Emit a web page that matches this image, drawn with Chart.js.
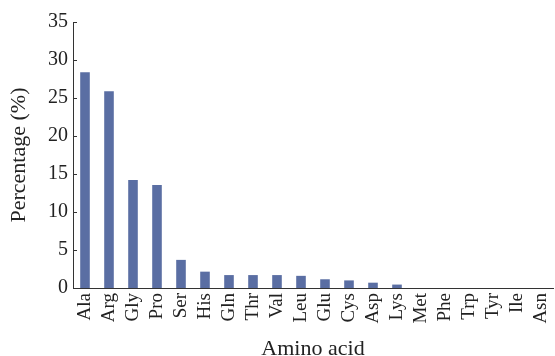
<!DOCTYPE html>
<html>
<head>
<meta charset="utf-8">
<script src="https://cdn.jsdelivr.net/npm/chart.js@4.4.1/dist/chart.umd.min.js"></script>
<style>
  html, body { margin: 0; padding: 0; background: #ffffff; }
  #wrap { width: 555px; height: 356px; }
</style>
</head>
<body>
<div id="wrap"><canvas id="c" width="555" height="356"></canvas></div>
<script>
// Amino acid composition (percentage of total residues)
const aminoAcids = ['Ala', 'Arg', 'Gly', 'Pro', 'Ser', 'His', 'Gln', 'Thr', 'Val', 'Leu',
                    'Glu', 'Cys', 'Asp', 'Lys', 'Met', 'Phe', 'Trp', 'Tyr', 'Ile', 'Asn'];
const percentages = [28.4, 25.9, 14.2, 13.55, 3.7, 2.15, 1.7, 1.7, 1.7, 1.6,
                     1.15, 1.0, 0.7, 0.45, 0, 0, 0, 0, 0, 0];
const yTicks = [0, 5, 10, 15, 20, 25, 30, 35];

const serif = "'Liberation Serif', 'DejaVu Serif', serif";
const ink = '#222222';

// short tick marks drawn on the inner side of the value axis
const innerTicks = {
  id: 'innerTicks',
  afterDraw(chart) {
    const y = chart.scales.y;
    const ctx = chart.ctx;
    ctx.save();
    ctx.strokeStyle = '#333333';
    ctx.lineWidth = 1;
    y.ticks.forEach((t, i) => {
      const py = Math.round(y.getPixelForTick(i)) + 0.5;
      ctx.beginPath();
      ctx.moveTo(y.right, py);
      ctx.lineTo(y.right + 4, py);
      ctx.stroke();
    });
    ctx.restore();
  }
};

new Chart(document.getElementById('c'), {
  type: 'bar',
  data: {
    labels: aminoAcids,
    datasets: [{
      data: percentages,
      backgroundColor: '#5a6ea3',
      borderWidth: 0,
      barPercentage: 0.8,
      categoryPercentage: 0.5
    }]
  },
  options: {
    responsive: false,
    animation: false,
    layout: { padding: { top: 22, right: 2, left: 0, bottom: 0 } },
    plugins: { legend: { display: false }, tooltip: { enabled: false } },
    scales: {
      x: {
        grid: { display: false, drawTicks: false },
        border: { display: true, color: '#333333', width: 1 },
        ticks: {
          minRotation: 90, maxRotation: 90, autoSkip: false, padding: 5,
          color: ink, font: { family: serif, size: 19 }
        },
        title: {
          display: true, text: 'Amino acid', color: ink,
          font: { family: serif, size: 22 }, padding: { top: 0, bottom: -6 }
        },
        afterFit(s) { s.height = 68; s.paddingLeft = 0; s.paddingRight = 0; }
      },
      y: {
        min: 0, max: 35,
        grid: { display: false, drawTicks: false },
        border: { display: true, color: '#333333', width: 1 },
        afterBuildTicks(s) { s.ticks = yTicks.map(v => ({ value: v })); },
        ticks: {
          padding: 5, color: ink, font: { family: serif, size: 20 }
        },
        title: {
          display: true, text: 'Percentage (%)', color: ink,
          font: { family: serif, size: 22 }, padding: { top: 6, bottom: 0 }
        },
        afterFit(s) { s.width = 73; }
      }
    }
  },
  plugins: [innerTicks]
});
</script>
</body>
</html>
